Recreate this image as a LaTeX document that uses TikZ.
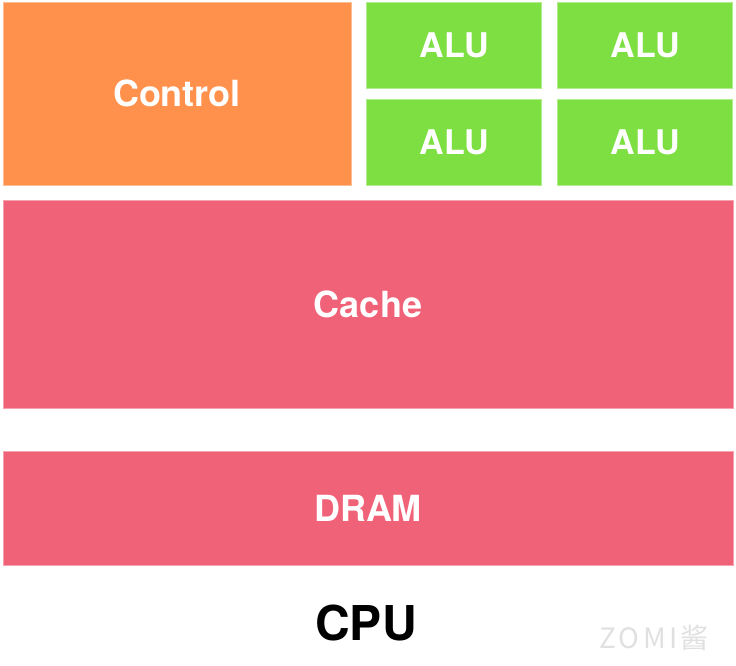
\documentclass[tikz,border=0pt]{standalone}
\usepackage{fontspec}
\setmainfont{TeX Gyre Heros}
\newfontfamily\cjk[LetterSpace=12]{Noto Sans CJK SC}
\usepackage{tikz}
\definecolor{ctrlorange}{HTML}{FF914D}
\definecolor{alugreen}{HTML}{7EDF42}
\definecolor{mempink}{HTML}{F06277}
\begin{document}
\begin{tikzpicture}[x=1pt,y=-1pt,
		box/.style={rectangle,inner sep=0pt,outer sep=0pt,line width=0.6pt,text=white,font=\bfseries\fontsize{36}{40}\selectfont},
		ctrlbox/.style={box,fill=ctrlorange,draw=ctrlorange!60!white,minimum width=348pt,minimum height=183pt},
		alubox/.style={box,fill=alugreen,draw=alugreen!60!white,minimum width=175pt,minimum height=86pt,font=\bfseries\fontsize{34}{38}\selectfont},
		membox/.style={box,fill=mempink,draw=mempink!60!white,minimum width=730pt}]
							\useasboundingbox (0,0) rectangle (736,665);
							% top row
							\node [ctrlbox] (control) at (177,93.5) {Control};
							\node [alubox] (alu1) at (454,45) {ALU};
							\node [alubox] (alu2) at (645,45) {ALU};
							\node [alubox] (alu3) at (454,142) {ALU};
							\node [alubox] (alu4) at (645,142) {ALU};
							% memory
							\node [membox,minimum height=208pt] (cache) at (368,304) {Cache};
							\node [membox,minimum height=114pt] (dram) at (368,508) {DRAM};
							% caption
							\node [font=\bfseries\fontsize{48}{52}\selectfont] (cpu) at (366,623) {CPU};
							\node [text=black!12,font=\cjk\fontsize{28}{30}\selectfont] (mark) at (654,638) {ZOMI酱};
						\end{tikzpicture}
\end{document}
